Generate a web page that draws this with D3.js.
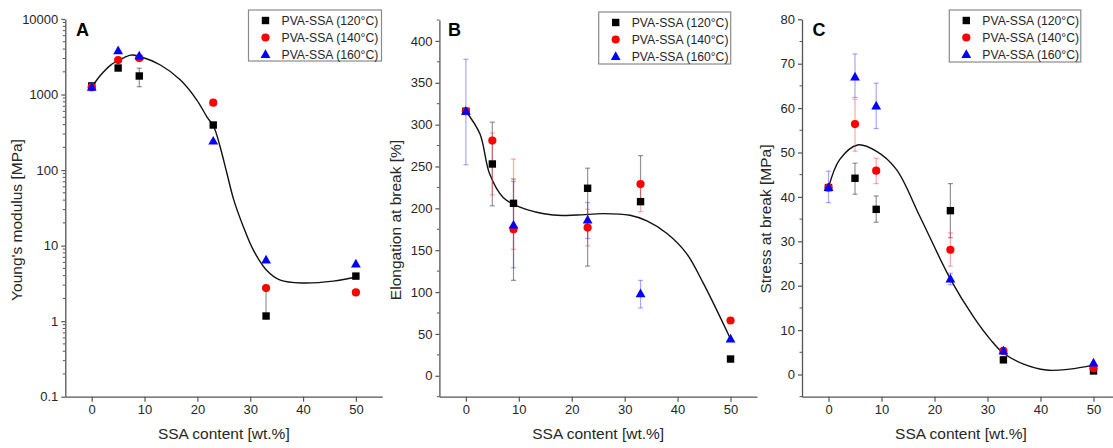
<!DOCTYPE html>
<html>
<head>
<meta charset="utf-8">
<script src="https://cdn.jsdelivr.net/npm/d3@7"></script>
<style>
  html, body { margin: 0; padding: 0; background: #fff; }
  svg { display: block; font-family: "Liberation Sans", Arial, Helvetica, sans-serif; }
</style>
</head>
<body>
<svg id="chart" width="1113" height="448"></svg>
<script>
// ---------------- data ----------------
const ssaContent = [0, 5, 9, 23, 33, 50];
const seriesNames = ["PVA-SSA (120°C)", "PVA-SSA (140°C)", "PVA-SSA (160°C)"];
const seriesColors = ["#000000", "#ff0000", "#0000ff"];
const seriesShapes = ["square", "circle", "triangle"];

// Panel A – Young's modulus [MPa]
const modulus120 = [1300, 2245, 1760, 395, 1.17, 3.95];
const modulus120Hi = [null, null, 2230, null, 2.75, null];
const modulus120Lo = [null, null, 1270, null, null, null];
const modulus140 = [1250, 2860, 3040, 780, 2.74, 2.4];
const modulus140Hi = [null, null, null, null, null, null];
const modulus140Lo = [null, null, null, null, null, null];
const modulus160 = [1250, 3800, 3240, 242, 6.45, 5.7];
const modulus160Hi = [1400, null, null, null, null, null];
const modulus160Lo = [1120, null, null, null, null, null];
const modulusFitX = [0, 1.7, 3.6, 5.5, 7.4, 9.25, 13, 16.8, 19.9, 21.8, 23.1, 24.3, 25.6, 26.9, 28.7, 30.6, 33.1, 35.7, 40, 45.7, 50.3];
const modulusFitY = [1250, 1810, 2455, 2925, 3330, 3160, 2460, 1556, 845, 508, 375, 204, 90, 40, 17.8, 8.7, 4.73, 3.49, 3.2, 3.39, 3.87];
const modulusTicks = [0.1, 1, 10, 100, 1000, 10000];
const modulusTickLabels = ["0.1", "1", "10", "100", "1000", "10000"];

// Panel B – Elongation at break [%]
const elong120 = [316, 253, 206, 224, 208, 20];
const elong120Hi = [null, 303, 235, 248, 263, null];
const elong120Lo = [null, 203, 114, 131, null, null];
const elong140 = [316, 281, 175, 177, 229, 66];
const elong140Hi = [null, 290, 259, 199, null, null];
const elong140Lo = [null, 216, 151, 155, 196, null];
const elong160 = [316, null, 180, 186, 98, 44];
const elong160Hi = [378, null, 232, 207, 114, null];
const elong160Lo = [252, null, 129, 164, 81, null];
const elongFitX = [0, 2.65, 4.5, 7.05, 10.2, 16.5, 21, 25.9, 31, 34.2, 38, 41.7, 44.9, 50];
const elongFitY = [316, 289, 241, 213, 201.5, 192, 192, 193.7, 191.7, 185, 170, 146, 110, 44];
const elongTicks = [0, 50, 100, 150, 200, 250, 300, 350, 400];

// Panel C – Stress at break [MPa]
const stress120 = [42.1, 44.2, 37.2, 36.9, 3.3, 0.8];
const stress120Hi = [null, 47.6, 40.2, 43.0, null, null];
const stress120Lo = [null, 40.6, 34.3, 30.8, null, null];
const stress140 = [42.1, 56.4, 45.9, 28.1, 5.3, 1.4];
const stress140Hi = [null, 62.0, 48.7, 31.9, 6.0, null];
const stress140Lo = [null, 50.3, 43.0, 24.4, 4.6, null];
const stress160 = [42.1, 67.0, 60.5, 21.5, 5.3, 2.6];
const stress160Hi = [45.8, 72.2, 65.6, 22.8, null, null];
const stress160Lo = [38.7, 62.4, 55.4, 20.2, null, null];
const stressFitX = [0, 2.1, 5.5, 9, 12.8, 17.2, 23, 27.3, 30.6, 32.9, 36.7, 41.1, 45.5, 50];
const stressFitY = [42.1, 48.4, 51.7, 50.3, 46.2, 35.7, 21.5, 13.1, 7.8, 4.9, 2.4, 1.0, 1.2, 2.1];
const stressTicks = [0, 10, 20, 30, 40, 50, 60, 70, 80];

const xTicks = [0, 10, 20, 30, 40, 50];
const xTitle = "SSA content [wt.%]";

// ---------------- drawing ----------------
const svg = d3.select("#chart");
const AXIS = "#555";
const TEXT = "#262626";
const errColors = ["rgba(60,60,60,0.55)", "rgba(255,60,60,0.45)", "rgba(60,60,255,0.45)"];

function drawPanel(p) {
  const g = svg.append("g");
  const x = d3.scaleLinear().domain([-5, 55]).range([p.left, p.right]);
  const y = p.log
    ? d3.scaleLog().domain(p.yDomain).range([p.bottom, p.top])
    : d3.scaleLinear().domain(p.yDomain).range([p.bottom, p.top]);

  // x axis
  const xAxis = d3.axisBottom(x).tickValues(xTicks).tickSize(5).tickPadding(3).tickSizeOuter(0);
  const gx = g.append("g").attr("transform", `translate(0,${p.bottom})`).call(xAxis);
  gx.select(".domain").attr("stroke", AXIS).attr("stroke-width", 1.3);
  gx.selectAll(".tick line").attr("stroke", AXIS).attr("stroke-width", 1.2);
  gx.selectAll(".tick text").attr("fill", TEXT).attr("font-size", 13).attr("font-family", "Liberation Sans, Arial");

  // y axis
  const yAxis = d3.axisLeft(y).tickValues(p.yTicks).tickSize(4).tickPadding(3).tickSizeOuter(0);
  if (p.yLabels) yAxis.tickFormat((d, i) => p.yLabels[i]);
  else yAxis.tickFormat(d3.format("d"));
  const gy = g.append("g").attr("transform", `translate(${p.left},0)`).call(yAxis);
  gy.select(".domain").attr("stroke", AXIS).attr("stroke-width", 1.3);
  gy.selectAll(".tick line").attr("stroke", AXIS).attr("stroke-width", 1.2);
  gy.selectAll(".tick text").attr("fill", TEXT).attr("font-size", 13).attr("font-family", "Liberation Sans, Arial");

  // minor y ticks
  gy.selectAll(".minor").data(p.minorTicks).enter().append("line")
    .attr("x1", 0).attr("x2", -2.5)
    .attr("y1", d => y(d)).attr("y2", d => y(d))
    .attr("stroke", AXIS).attr("stroke-width", 1);

  // axis titles
  g.append("text").attr("x", (p.left + p.right) / 2).attr("y", 439)
    .attr("text-anchor", "middle").attr("font-size", 15.5).attr("fill", TEXT).text(xTitle);
  g.append("text").attr("transform", `translate(${p.yTitleX},${p.yTitleY}) rotate(-90)`)
    .attr("text-anchor", "middle").attr("font-size", 15.5).attr("fill", TEXT).text(p.yTitle);

  // panel letter
  g.append("text").attr("x", p.letterX).attr("y", 36).attr("font-size", 18).attr("font-weight", "bold")
    .attr("fill", "#000").text(p.letter);

  // fit curve
  const fit = p.fitX.map((v, i) => [v, p.fitY[i]]);
  g.append("path").datum(fit)
    .attr("d", d3.line().x(d => x(d[0])).y(d => y(d[1])).curve(d3.curveCatmullRom.alpha(0.5)))
    .attr("fill", "none").attr("stroke", "#111").attr("stroke-width", 1.4);

  // series
  p.series.forEach((s, si) => {
    // error bars
    ssaContent.forEach((cx, i) => {
      const v = s.values[i];
      if (v == null) return;
      const hi = s.hi[i], lo = s.lo[i];
      if (hi == null && lo == null) return;
      const top = hi != null ? y(hi) : y(v);
      const bot = lo != null ? y(lo) : y(v);
      const px = x(cx);
      g.append("line").attr("x1", px).attr("x2", px).attr("y1", top).attr("y2", bot)
        .attr("stroke", errColors[si]).attr("stroke-width", 1.2);
      if (hi != null) g.append("line").attr("x1", px - 2.5).attr("x2", px + 2.5).attr("y1", top).attr("y2", top)
        .attr("stroke", errColors[si]).attr("stroke-width", 1.2);
      if (lo != null) g.append("line").attr("x1", px - 2.5).attr("x2", px + 2.5).attr("y1", bot).attr("y2", bot)
        .attr("stroke", errColors[si]).attr("stroke-width", 1.2);
    });
  });
  p.series.forEach((s, si) => {
    ssaContent.forEach((cx, i) => {
      const v = s.values[i];
      if (v == null) return;
      drawMarker(g, seriesShapes[si], x(cx), y(v), seriesColors[si]);
    });
  });

  // legend
  const L = p.legend;
  g.append("rect").attr("x", L.x).attr("y", L.y).attr("width", L.w).attr("height", L.h)
    .attr("fill", "#fff").attr("stroke", "#8a8a8a").attr("stroke-width", 1.2);
  seriesNames.forEach((name, i) => {
    const cy = L.y + 10.5 + i * 17;
    drawMarker(g, seriesShapes[i], L.x + 17, cy, seriesColors[i]);
    g.append("text").attr("x", L.x + 33).attr("y", cy + 4.5).attr("font-size", 12.2)
      .attr("fill", TEXT).text(name);
  });
}

function drawMarker(g, shape, cx, cy, color) {
  if (shape === "square") {
    g.append("rect").attr("x", cx - 3.7).attr("y", cy - 3.7).attr("width", 7.4).attr("height", 7.4).attr("fill", color);
  } else if (shape === "circle") {
    g.append("circle").attr("cx", cx).attr("cy", cy).attr("r", 4.1).attr("fill", color);
  } else {
    g.append("path").attr("d", `M${cx},${cy - 5.2}L${cx + 4.9},${cy + 3.5}L${cx - 4.9},${cy + 3.5}Z`).attr("fill", color);
  }
}

function logMinor(lo, hi) {
  const out = [];
  for (let e = Math.log10(lo); e < Math.log10(hi); e++) {
    for (let k = 2; k <= 9; k++) out.push(k * Math.pow(10, e));
  }
  return out;
}
function linMinor(lo, hi, step, major) {
  const out = [];
  for (let v = lo; v <= hi + 1e-9; v += step) if (Math.abs(v % major) > 1e-9) out.push(v);
  return out;
}

drawPanel({
  letter: "A", letterX: 76,
  left: 65.3, right: 382.3, top: 19, bottom: 396.7,
  log: true, yDomain: [0.1, 10000], yTicks: modulusTicks, yLabels: modulusTickLabels,
  minorTicks: logMinor(0.1, 10000),
  yTitle: "Young's modulus [MPa]", yTitleX: 22, yTitleY: 220,
  fitX: modulusFitX, fitY: modulusFitY,
  series: [
    { values: modulus120, hi: modulus120Hi, lo: modulus120Lo },
    { values: modulus140, hi: modulus140Hi, lo: modulus140Lo },
    { values: modulus160, hi: modulus160Hi, lo: modulus160Lo }
  ],
  legend: { x: 248.5, y: 10, w: 133, h: 51 }
});

drawPanel({
  letter: "B", letterX: 448,
  left: 439.4, right: 757, top: 20, bottom: 396.7,
  log: false, yDomain: [-25, 425], yTicks: elongTicks,
  minorTicks: linMinor(-25, 425, 25, 50),
  yTitle: "Elongation at break [%]", yTitleX: 400.5, yTitleY: 220,
  fitX: elongFitX, fitY: elongFitY,
  series: [
    { values: elong120, hi: elong120Hi, lo: elong120Lo },
    { values: elong140, hi: elong140Hi, lo: elong140Lo },
    { values: elong160, hi: elong160Hi, lo: elong160Lo }
  ],
  legend: { x: 598.7, y: 12, w: 132, h: 52 }
});

drawPanel({
  letter: "C", letterX: 812.5,
  left: 802, right: 1120, top: 19.3, bottom: 396.7,
  log: false, yDomain: [-5, 80], yTicks: stressTicks,
  minorTicks: linMinor(-5, 80, 5, 10),
  yTitle: "Stress at break [MPa]", yTitleX: 771, yTitleY: 219,
  fitX: stressFitX, fitY: stressFitY,
  series: [
    { values: stress120, hi: stress120Hi, lo: stress120Lo },
    { values: stress140, hi: stress140Hi, lo: stress140Lo },
    { values: stress160, hi: stress160Hi, lo: stress160Lo }
  ],
  legend: { x: 949.3, y: 10, w: 131.5, h: 52 }
});
</script>
</body>
</html>
